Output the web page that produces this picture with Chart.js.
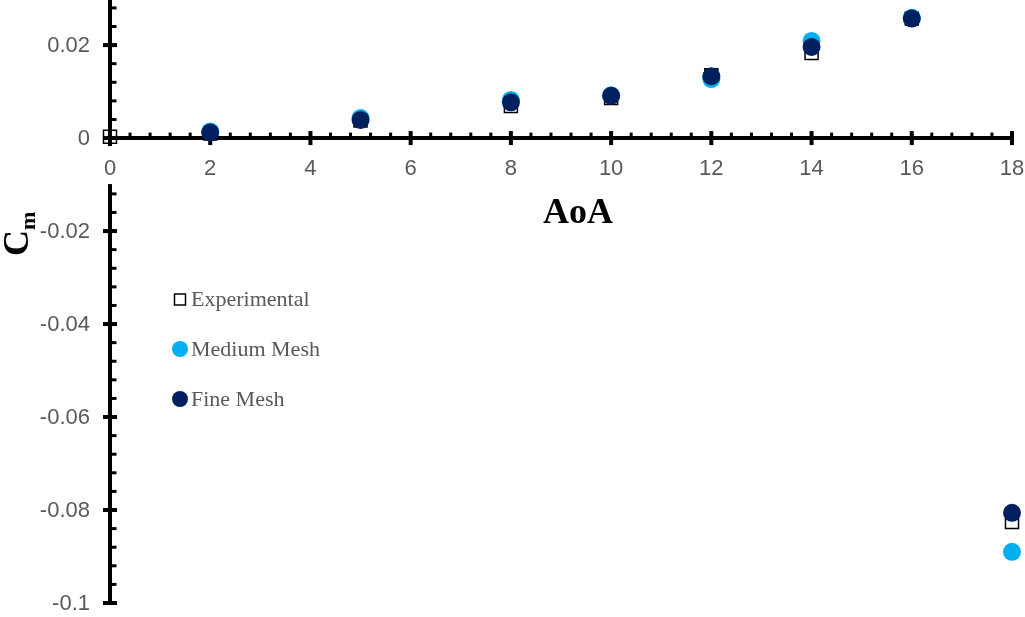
<!DOCTYPE html>
<html>
<head>
<meta charset="utf-8">
<script src="https://cdn.jsdelivr.net/npm/chart.js@4/dist/chart.umd.min.js"></script>
<style>
  html, body { margin: 0; padding: 0; background: #ffffff; }
  #wrap { width: 1025px; height: 617px; position: relative; }
</style>
</head>
<body>
<div id="wrap"><canvas id="chart" width="1025" height="617"></canvas></div>
<script>
// Angle of attack (deg) for the measured and simulated pitching-moment coefficients
const aoaExperimental = [0, 2, 5, 8, 10, 12, 14, 16, 18];
const cmExperimental  = [0.0003, 0.0010, 0.0038, 0.0069, 0.0086, 0.0135, 0.0183, 0.0257, -0.0826];

const aoaMesh      = [2, 5, 8, 10, 12, 14, 16, 18];
const cmMediumMesh = [0.0014, 0.0043, 0.0082, 0.0092, 0.0127, 0.0209, 0.0259, -0.0890];
const cmFineMesh   = [0.0012, 0.0039, 0.0077, 0.0091, 0.0133, 0.0196, 0.0257, -0.0806];

// Labelled (major) ticks; minor ticks fill the gaps
const xTickValues = [0, 2, 4, 6, 8, 10, 12, 14, 16, 18];
const xTickLabels = ['0', '2', '4', '6', '8', '10', '12', '14', '16', '18'];
const yTickValues = [-0.1, -0.08, -0.06, -0.04, -0.02, 0, 0.02];
const yTickLabels = ['-0.1', '-0.08', '-0.06', '-0.04', '-0.02', '0', '0.02'];
const xMinorStep = 0.4;
const yMinorStep = 0.004;

const seriesNames = ['Experimental', 'Medium Mesh', 'Fine Mesh'];

const toPoints = (xs, ys) => xs.map((v, i) => ({ x: v, y: ys[i] }));

function labelFor(values, labels, v) {
  const i = values.findIndex(t => Math.abs(t - v) < 1e-9);
  return i >= 0 ? labels[i] : '';
}

function buildTicks(min, max, step) {
  const out = [];
  const n0 = Math.ceil(min / step - 1e-9), n1 = Math.floor(max / step + 1e-9);
  for (let k = n0; k <= n1; k++) out.push({ value: +(k * step).toFixed(6) });
  return out;
}

// axes sit inside the plot, so they take no room from it
function noRoom(s) {
  if (s.isHorizontal()) s.height = 0; else s.width = 0;
  s.paddingLeft = 0; s.paddingRight = 0; s.paddingTop = 0; s.paddingBottom = 0;
}

const TICK_FONT = { family: "'Liberation Sans', Arial, sans-serif", size: 22 };
const TICK_FONT_CSS = "22px 'Liberation Sans', Arial, sans-serif";
const GREY = '#595959';
const X_LABEL_PAD = 18;

// Tick marks crossing the axes, y tick labels, axis titles and the in-plot key
const axisDecor = {
  id: 'axisDecor',
  beforeDatasetsDraw(chart) {
    const { ctx } = chart;
    const xs = chart.scales.x, ys = chart.scales.y;
    const x0 = xs.getPixelForValue(0);
    const y0 = ys.getPixelForValue(0);
    ctx.save();
    ctx.fillStyle = '#000000';
    xs.ticks.forEach(t => {
      const px = xs.getPixelForValue(t.value);
      if (labelFor(xTickValues, xTickLabels, t.value) !== '') ctx.fillRect(px - 2, y0 - 7, 4, 14);
      else ctx.fillRect(px - 1.5, y0 - 5.5, 3, 4);
    });
    ys.ticks.forEach(t => {
      const py = ys.getPixelForValue(t.value);
      const lbl = labelFor(yTickValues, yTickLabels, t.value);
      ctx.fillStyle = '#000000';
      if (lbl !== '') ctx.fillRect(x0 - 7, py - 2, 14, 4);
      else ctx.fillRect(x0 + 1.5, py - 1.5, 5, 3);
      if (lbl !== '') {
        ctx.fillStyle = GREY;
        ctx.font = TICK_FONT_CSS;
        ctx.textAlign = 'right';
        ctx.textBaseline = 'middle';
        ctx.fillText(lbl, x0 - 20, py + 1);
      }
    });

    // the x label at the origin sits on a white box that breaks the vertical axis
    ctx.fillStyle = '#ffffff';
    ctx.fillRect(x0 - 9, y0 + 8, 18, 38);
    ctx.fillStyle = GREY;
    ctx.font = TICK_FONT_CSS;
    ctx.textAlign = 'center';
    ctx.textBaseline = 'middle';
    ctx.fillText(xTickLabels[0], x0, y0 + 31);
    ctx.restore();
  },
  afterDraw(chart) {
    const { ctx } = chart;
    ctx.save();
    // x-axis title
    ctx.fillStyle = '#000000';
    ctx.font = "bold 36px 'Liberation Serif', 'Times New Roman', serif";
    ctx.textAlign = 'center';
    ctx.textBaseline = 'alphabetic';
    ctx.fillText('AoA', 578, 223);

    // y-axis title C with subscript m, reading upwards
    ctx.translate(28, 256);
    ctx.rotate(-Math.PI / 2);
    ctx.textAlign = 'left';
    ctx.font = "bold 36px 'Liberation Serif', 'Times New Roman', serif";
    ctx.fillText('C', 0, 0);
    const cw = ctx.measureText('C').width;
    ctx.font = "bold 22px 'Liberation Serif', 'Times New Roman', serif";
    ctx.fillText('m', cw, 7);
    ctx.restore();

    // key
    ctx.save();
    const rows = [299, 349, 399];
    chart.data.datasets.forEach((ds, i) => {
      const cy = rows[i];
      const cx = 180;
      if (ds.pointStyle === 'rect') {
        ctx.strokeStyle = ds.borderColor;
        ctx.lineWidth = 1.5;
        ctx.strokeRect(cx - 5.5, cy - 5, 11, 11);
      } else {
        ctx.fillStyle = ds.backgroundColor;
        ctx.beginPath();
        ctx.arc(cx, cy, 8, 0, Math.PI * 2);
        ctx.fill();
      }
      ctx.fillStyle = GREY;
      ctx.font = "22px 'Liberation Serif', 'Times New Roman', serif";
      ctx.textAlign = 'left';
      ctx.textBaseline = 'alphabetic';
      ctx.fillText(ds.label, 191, cy + 7);
    });
    ctx.restore();
  }
};

new Chart(document.getElementById('chart'), {
  type: 'scatter',
  data: {
    datasets: [
      {
        label: seriesNames[0],
        data: toPoints(aoaExperimental, cmExperimental),
        pointStyle: 'rect',
        pointRadius: 9.2,
        borderColor: '#000000',
        backgroundColor: 'rgba(255,255,255,0)',
        borderWidth: 1.5,
        clip: false,
        order: 3
      },
      {
        label: seriesNames[1],
        data: toPoints(aoaMesh, cmMediumMesh),
        pointStyle: 'circle',
        pointRadius: 9,
        backgroundColor: '#00B0F0',
        borderColor: '#00B0F0',
        borderWidth: 0,
        clip: false,
        order: 2
      },
      {
        label: seriesNames[2],
        data: toPoints(aoaMesh, cmFineMesh),
        pointStyle: 'circle',
        pointRadius: 9,
        backgroundColor: '#002060',
        borderColor: '#002060',
        borderWidth: 0,
        clip: false,
        order: 1
      }
    ]
  },
  options: {
    responsive: false,
    animation: false,
    devicePixelRatio: 1,
    layout: { autoPadding: false, padding: { left: 110, right: 13, top: 0, bottom: 14 } },
    plugins: { legend: { display: false }, tooltip: { enabled: false } },
    scales: {
      x: {
        type: 'linear',
        min: 0,
        max: 18,
        position: { y: 0 },
        afterFit: noRoom,
        afterBuildTicks(s) { s.ticks = buildTicks(0, 18, xMinorStep); },
        grid: { display: true, drawOnChartArea: false, drawTicks: false },
        border: { display: true, color: '#000000', width: 4 },
        ticks: {
          autoSkip: false,
          maxRotation: 0,
          padding: X_LABEL_PAD,
          color: GREY,
          font: TICK_FONT,
          callback: v => labelFor(xTickValues, xTickLabels, v)
        }
      },
      y: {
        type: 'linear',
        min: -0.1,
        max: 0.0297,
        position: { x: 0 },
        afterFit: noRoom,
        afterBuildTicks(s) { s.ticks = buildTicks(-0.1, 0.0297, yMinorStep); },
        grid: { display: true, drawOnChartArea: false, drawTicks: false },
        border: { display: true, color: '#000000', width: 4 },
        ticks: { display: false }
      }
    }
  },
  plugins: [axisDecor]
});
</script>
</body>
</html>
